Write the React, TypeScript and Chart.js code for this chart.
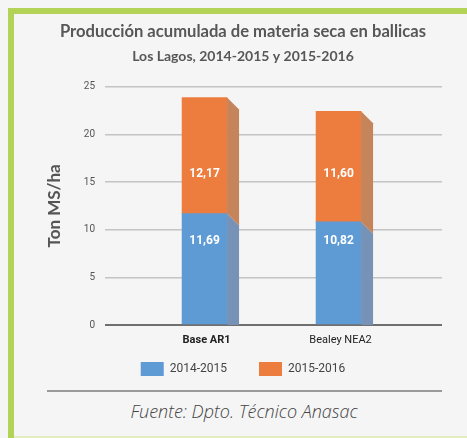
import React, { useEffect, useRef } from 'react';
import { Chart, registerables } from 'chart.js';

Chart.register(...registerables);

// ---- data ----
const categories = ['Base AR1', 'Bealey NEA2'];
const seriesNames = ['2014-2015', '2015-2016'];
const values20142015 = [11.69, 10.82];
const values20152016 = [12.17, 11.6];
const yTickValues = [0, 5, 10, 15, 20, 25];

// ---- styles ----
const FRONT_COLORS = ['#5e9bd5', '#ed7d3e'];
const SIDE_COLORS = ['#7692b6', '#c6845b'];
const LABEL_LEVELS = [8.8, 15.85]; // value-axis level at which each series' label is written
const DEPTH = 12;

const sidePlugin = {
  id: 'side3d',
  afterDatasetsDraw(chart: any) {
    const { ctx } = chart;
    const yScale = chart.scales.y;
    const zeroY = yScale.getPixelForValue(0);
    ctx.save();
    ctx.beginPath();
    ctx.rect(0, 0, chart.width, zeroY);
    ctx.clip();
    chart.data.datasets.forEach((ds: any, di: number) => {
      const meta = chart.getDatasetMeta(di);
      meta.data.forEach((bar: any) => {
        const p = bar.getProps(['x', 'y', 'base', 'width'], true);
        const r = p.x + p.width / 2;
        ctx.fillStyle = SIDE_COLORS[di];
        ctx.beginPath();
        ctx.moveTo(r, p.y);
        ctx.lineTo(r + DEPTH, p.y + DEPTH);
        ctx.lineTo(r + DEPTH, p.base + DEPTH);
        ctx.lineTo(r, p.base);
        ctx.closePath();
        ctx.fill();
      });
    });
    ctx.restore();
    // value labels
    ctx.save();
    ctx.fillStyle = '#ffffff';
    ctx.font = 'bold 12px Roboto';
    ctx.textAlign = 'center';
    ctx.textBaseline = 'middle';
    chart.data.datasets.forEach((ds: any, di: number) => {
      const meta = chart.getDatasetMeta(di);
      meta.data.forEach((bar: any, i: number) => {
        const p = bar.getProps(['x'], true);
        const v = ds.data[i].y as number;
        const ly = yScale.getPixelForValue(LABEL_LEVELS[di]);
        ctx.fillText(v.toFixed(2).replace('.', ','), p.x, ly);
      });
    });
    ctx.restore();
  },
};

export default function App() {
  const ref = useRef<HTMLCanvasElement | null>(null);

  useEffect(() => {
    if (!ref.current) return;
    const series = [values20142015, values20152016];
    const chart = new Chart(ref.current, {
      type: 'bar',
      data: {
        datasets: series.map((vals, si) => ({
          label: seriesNames[si],
          data: categories.map((_, i) => ({ x: i, y: vals[i] })),
          backgroundColor: FRONT_COLORS[si],
          borderWidth: 0,
          barThickness: 45,
          stack: 's',
        })),
      } as any,
      options: {
        animation: false,
        responsive: false,
        maintainAspectRatio: false,
        layout: { padding: { left: 30, right: 25, top: 0, bottom: 0 } },
        plugins: {
          title: {
            display: true,
            text: 'Producción acumulada de materia seca en ballicas',
            color: '#575757',
            font: { family: 'Lato', size: 16.6, weight: 'bold' },
            padding: { top: 8, bottom: 3 },
          },
          subtitle: {
            display: true,
            text: 'Los Lagos, 2014-2015 y 2015-2016',
            color: '#575757',
            font: { family: 'Lato', size: 14, weight: 'bold' },
            padding: { top: 3, bottom: 22 },
          },
          legend: {
            position: 'bottom',
            labels: {
              boxWidth: 23,
              boxHeight: 14,
              padding: 32,
              color: '#444444',
              font: { family: 'Roboto', size: 12 },
            },
          },
          tooltip: { enabled: false },
        },
        scales: {
          x: {
            type: 'linear',
            offset: false,
            min: -0.743,
            max: 1.772,
            grid: { display: false, drawTicks: false, offset: false },
            border: { display: false },
            afterBuildTicks: (s: any) => {
              s.ticks = categories.map((_, i) => ({ value: i }));
            },
            afterFit: (s: any) => {
              s.height = 5;
            },
            ticks: {
              autoSkip: false,
              maxRotation: 0,
              mirror: true,
              padding: -22,
              labelOffset: 2,
              color: '#222222',
              callback: (v: any) => categories[Math.round(Number(v))] ?? '',
              font: (c: any) => ({
                family: 'Roboto',
                size: 11,
                weight: c.index === 0 ? 'bold' : 'normal',
              }),
            },
          },
          y: {
            min: 0,
            max: 25,
            stacked: true,
            afterBuildTicks: (s: any) => {
              s.ticks = yTickValues.map((v) => ({ value: v }));
            },
            afterFit: (s: any) => {
              s.width = 61;
            },
            ticks: {
              padding: 10,
              color: '#555555',
              font: { family: 'Roboto', size: 10 },
            },
            grid: {
              drawTicks: false,
              color: (c: any) => (c.tick && c.tick.value === 0 ? '#6f6f6f' : '#c4c4c4'),
              lineWidth: (c: any) => (c.tick && c.tick.value === 0 ? 2 : 1.5),
            },
            border: { display: false },
            title: {
              display: true,
              text: 'Ton MS/ha',
              color: '#555555',
              font: { family: 'Lato', size: 17, weight: 'bold' },
              padding: { top: 0, bottom: 0 },
            },
          },
        },
      } as any,
      plugins: [sidePlugin],
    });
    return () => chart.destroy();
  }, []);

  return (
    <div
      style={{
        position: 'fixed',
        left: 0,
        top: 0,
        width: 467,
        height: 438,
        background: '#f5f5f5',
        overflow: 'hidden',
      }}
    >
      <div style={{ position: 'absolute', left: 8, top: 8, width: 459, height: 6, background: '#b3d356' }} />
      <div style={{ position: 'absolute', left: 8, top: 8, width: 6, height: 430, background: '#b3d356' }} />
      <div style={{ position: 'absolute', left: 14, top: 436, width: 453, height: 2, background: '#e2ecc0' }} />
      <canvas
        ref={ref}
        width={453}
        height={372}
        style={{ position: 'absolute', left: 14, top: 14, width: 453, height: 372 }}
      />
      <div style={{ position: 'absolute', left: 47, top: 390, width: 395, height: 1.5, background: '#9a9a9a' }} />
      <div
        style={{
          position: 'absolute',
          left: 14,
          width: 460,
          top: 399,
          textAlign: 'center',
          fontFamily: 'Open Sans',
          fontStyle: 'italic',
          fontWeight: 300,
          fontSize: 18,
          color: '#444444',
        }}
      >
        Fuente: Dpto. Técnico Anasac
      </div>
    </div>
  );
}
